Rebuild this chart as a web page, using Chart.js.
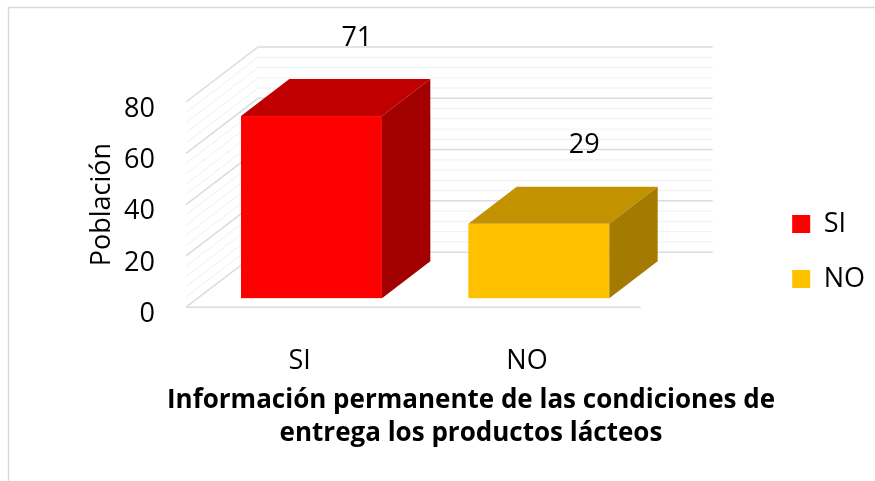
<!DOCTYPE html>
<html lang="es">
  <head>
    <meta charset="UTF-8" />
    <title>Información permanente de las condiciones de entrega</title>
    <script src="https://cdn.jsdelivr.net/npm/chart.js"></script>
    <style>
      * {
        margin: 0;
        padding: 0;
        box-sizing: border-box;
      }
      body {
        background-color: #ffffff;
        width: 875px;
        height: 481px;
        overflow: hidden;
      }
      canvas {
        display: block;
      }
    </style>
  </head>
  <body>
    <canvas id="barChart" width="875" height="481"></canvas>

    <script>
      // Datos del gráfico
      var categorias = ["SI", "NO"];
      var poblacion = [71, 29];
      var yMax = 80;
      var yPaso = 20;

      // Colores de las caras de cada barra
      var colorFrente = ["#FF0000", "#FFC000"];
      var colorArriba = ["#C00000", "#C39200"];
      var colorLado = ["#A20000", "#A47B00"];

      // Profundidad de la perspectiva 3D
      var DX = 72, DY = -55, D0 = 0.164, D1 = 0.836;
      var fuente = "'Open Sans', sans-serif";

      Chart.defaults.font.family = fuente;
      Chart.defaults.color = "#000000";

      // Una serie por categoría para tener la leyenda SI / NO
      var datasets = categorias.map(function (c, i) {
        return {
          label: c,
          data: poblacion.map(function (v, j) { return j === i ? v : null; }),
          backgroundColor: colorFrente[i],
          borderWidth: 0,
          barPercentage: 0.62,
          categoryPercentage: 1,
        };
      });

      // Dibuja paredes, rejilla y barras en 3D
      var barras3d = {
        id: "barras3d",
        beforeDraw: function (chart) {
          var ctx = chart.ctx;
          ctx.save();
          ctx.fillStyle = "#ffffff";
          ctx.fillRect(0, 0, chart.width, chart.height);
          ctx.strokeStyle = "#d9d9d9";
          ctx.lineWidth = 1.5;
          ctx.strokeRect(8.5, 7.5, 1000, 1000);
          ctx.restore();
        },
        beforeDatasetsDraw: function (chart) {
          var ctx = chart.ctx;
          var a = chart.chartArea;
          var y = chart.scales.y;
          ctx.save();

          // rejilla: pared del fondo y pared izquierda
          for (var v = 0; v <= yMax; v += 4) {
            var py = y.getPixelForValue(v);
            var mayor = v % yPaso === 0;
            ctx.strokeStyle = mayor ? "#d9dce1" : "#eef0f2";
            ctx.lineWidth = mayor ? 1.5 : 1;
            ctx.beginPath();
            ctx.moveTo(a.left, py);
            ctx.lineTo(a.left + DX, py + DY);
            ctx.lineTo(a.right + DX, py + DY);
            ctx.stroke();
          }
          // borde delantero del piso
          var p0 = y.getPixelForValue(0);
          ctx.strokeStyle = "#d9dce1";
          ctx.lineWidth = 1.5;
          ctx.beginPath();
          ctx.moveTo(a.left, p0);
          ctx.lineTo(a.right, p0);
          ctx.stroke();

          // barras
          chart.data.datasets.forEach(function (ds, i) {
            var meta = chart.getDatasetMeta(i);
            meta.data.forEach(function (bar, j) {
              if (ds.data[j] == null) return;
              var p = bar.getProps(["x", "y", "base", "width"], true);
              var xl = p.x - p.width / 2, xr = p.x + p.width / 2;
              var fx = D0 * DX, fy = D0 * DY, bx = D1 * DX, by = D1 * DY;

              ctx.fillStyle = colorFrente[i];
              ctx.fillRect(xl + fx, p.y + fy, p.width, p.base - p.y);

              ctx.fillStyle = colorArriba[i];
              ctx.beginPath();
              ctx.moveTo(xl + fx, p.y + fy);
              ctx.lineTo(xr + fx, p.y + fy);
              ctx.lineTo(xr + bx, p.y + by);
              ctx.lineTo(xl + bx, p.y + by);
              ctx.closePath();
              ctx.fill();

              ctx.fillStyle = colorLado[i];
              ctx.beginPath();
              ctx.moveTo(xr + fx, p.y + fy);
              ctx.lineTo(xr + bx, p.y + by);
              ctx.lineTo(xr + bx, p.base + by);
              ctx.lineTo(xr + fx, p.base + fy);
              ctx.closePath();
              ctx.fill();

              // etiqueta de valor
              ctx.fillStyle = "#000000";
              ctx.font = "27px " + fuente;
              ctx.textAlign = "center";
              ctx.textBaseline = "middle";
              ctx.fillText(ds.data[j], p.x + bx - 3, p.y + by - 41);
            });
          });

          ctx.restore();
          return false;
        },
      };

      new Chart(document.getElementById("barChart"), {
        type: "bar",
        data: { labels: categorias, datasets: datasets },
        plugins: [barras3d],
        options: {
          responsive: false,
          animation: false,
          layout: { padding: { left: 67, top: 22, right: 0, bottom: 0 } },
          scales: {
            x: {
              stacked: true,
              grid: { display: false },
              border: { display: false },
              ticks: { font: { size: 27 }, padding: 30 },
              afterFit: function (s) { s.height = 70; },
            },
            x2: {
              type: "category",
              position: "top",
              grid: { display: false },
              border: { display: false },
              ticks: { display: false },
              afterFit: function (s) { s.height = 80; },
            },
            y: {
              min: 0,
              max: yMax,
              ticks: { stepSize: yPaso, font: { size: 27 }, padding: 31, labelOffset: 7 },
              grid: { display: false, drawTicks: false },
              border: { display: false },
              title: {
                display: true,
                text: "Población",
                font: { size: 27 },
                padding: { top: 19, bottom: 0 },
              },
              afterFit: function (s) { s.width = 119; },
            },
            y2: {
              type: "linear",
              position: "right",
              grid: { display: false },
              border: { display: false },
              ticks: { display: false },
              afterFit: function (s) { s.width = 123.5; },
            },
          },
          plugins: {
            tooltip: { enabled: false },
            legend: {
              position: "right",
              labels: {
                boxWidth: 18,
                boxHeight: 18,
                padding: 28,
                font: { size: 27 },
                color: "#000000",
              },
            },
            title: {
              display: true,
              position: "bottom",
              text: [
                "Información permanente de las condiciones de",
                "entrega los productos lácteos",
              ],
              font: { size: 26, weight: "bold", lineHeight: 1.27 },
              color: "#000000",
              padding: { top: 7.2, bottom: 30.6 },
            },
          },
        },
      });
    </script>
  </body>
</html>
